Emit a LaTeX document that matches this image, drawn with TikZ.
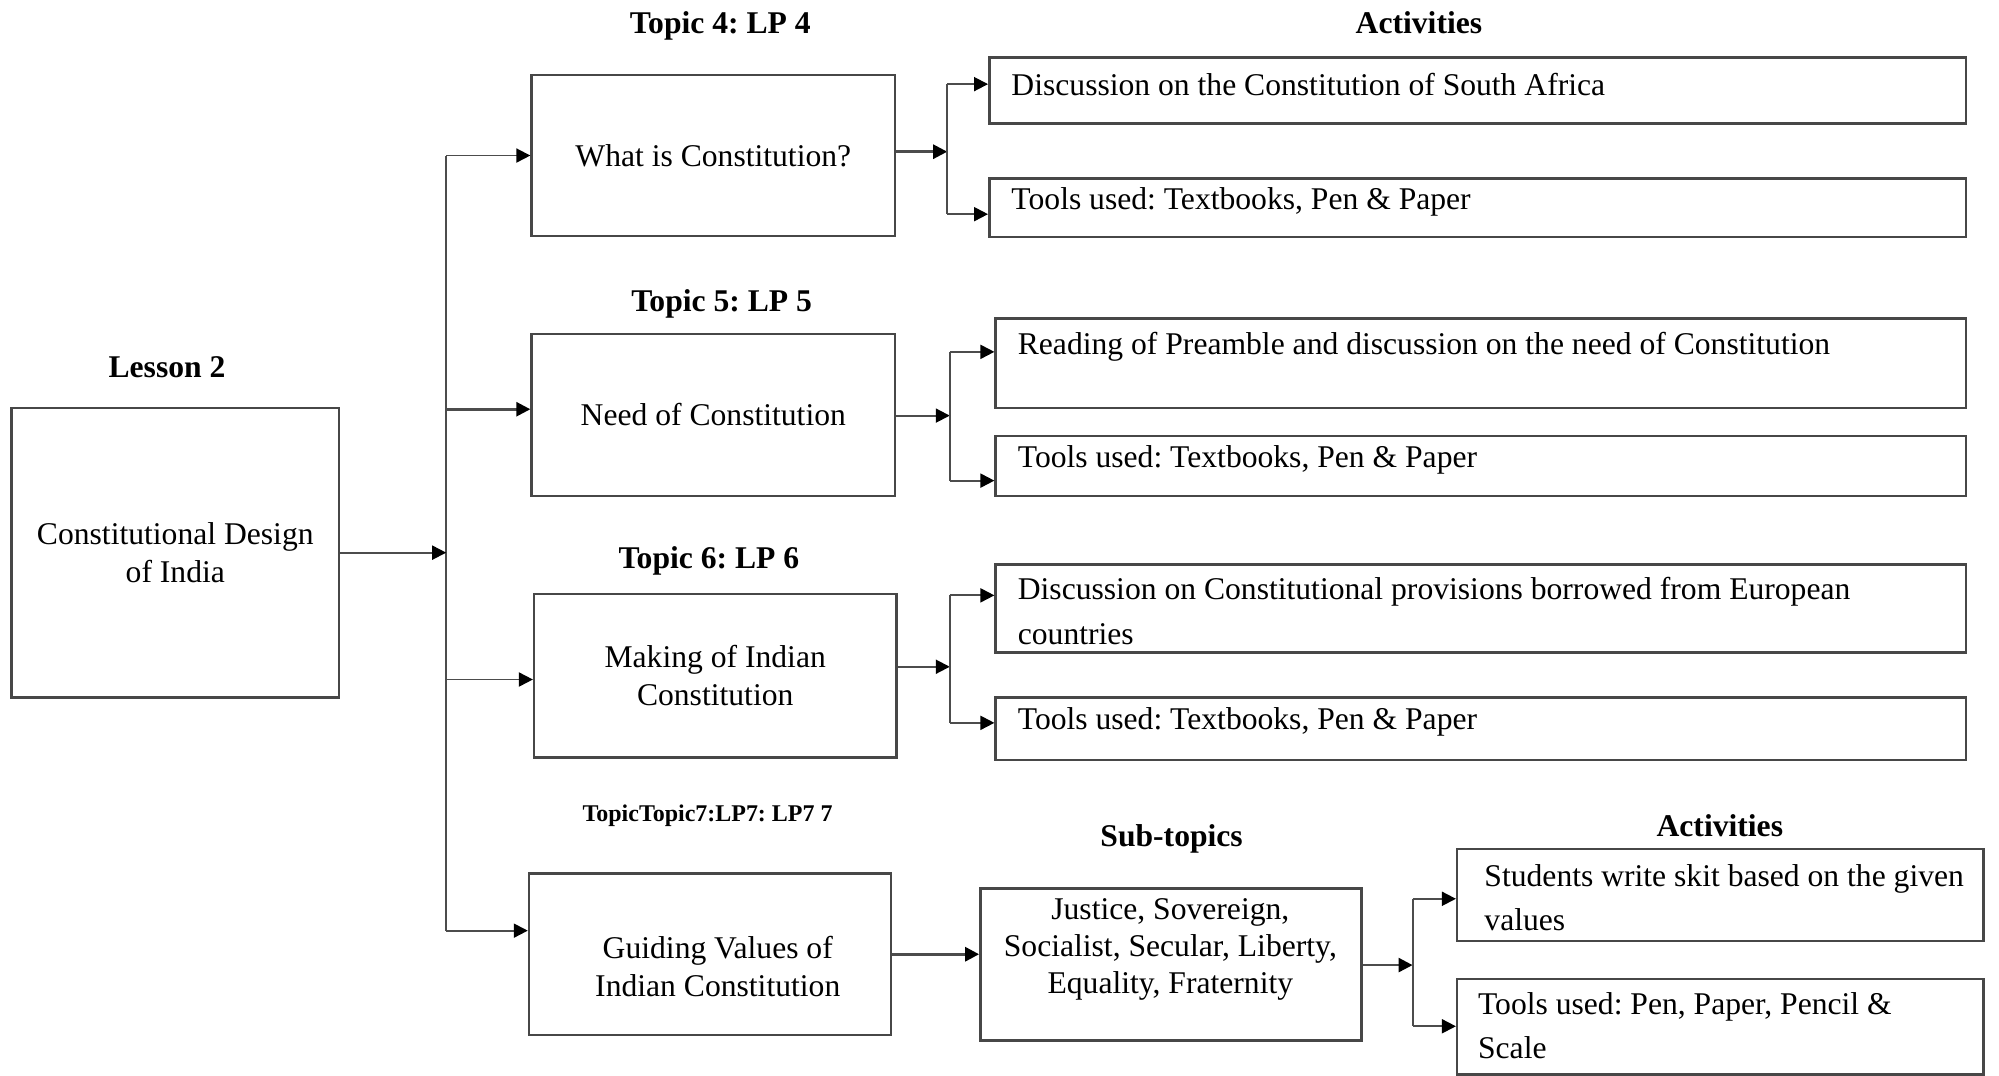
\documentclass[tikz,border=0pt]{standalone}
\usepackage{fontspec}
\setmainfont{Liberation Serif}
\usetikzlibrary{arrows.meta}
\frenchspacing
\newcommand\myBody{\fontsize{12.4}{15}\selectfont}
\newcommand\myAct{\fontsize{12.4}{17.5}\selectfont}
\newcommand\myHead{\fontsize{12.4}{15}\selectfont\bfseries}
\newcommand\mySmall{\fontsize{9.4}{11}\selectfont\bfseries}
\begin{document}
\begin{tikzpicture}[x=0.5pt,y=-0.5pt,
  box/.style={draw=black!72, line width=1pt, inner sep=0pt, align=center, font=\myBody},
  txt/.style={inner sep=0pt, font=\myBody, align=left},
  acttxt/.style={inner sep=0pt, font=\myAct, align=left, anchor=west},
  head/.style={inner sep=0pt, font=\myHead},
  conn/.style={draw=black!70, line width=0.75pt},
  arr/.style={conn, -{Triangle[length=5.5pt,width=5.5pt,color=black]}}]
\useasboundingbox (0,0) rectangle (1568,844);

% headings
\node[head] (h4) at (565,20) {Topic 4: LP 4};
\node[head] (act1) at (1113,18) {Activities};
\node[head] (h5) at (566,238) {Topic 5: LP 5};
\node[head] (les) at (131,288) {Lesson 2};
\node[head] (h6) at (556,440) {Topic 6: LP 6};
\node[head, font=\mySmall] (h7) at (555,640) {TopicTopic7:LP7: LP7 7};
\node[head] (subh) at (919,658) {Sub-topics};
\node[head] (act2) at (1349,648) {Activities};

% main boxes
\node[box, minimum width=128.5pt, minimum height=113.5pt] (lesson) at (137.5,433.5) {Constitutional Design\\of India};
\node[box, minimum width=142.5pt, minimum height=63pt] (w) at (559.5,122) {What is Constitution?};
\node[box, minimum width=142.5pt, minimum height=63.5pt] (n) at (559.5,325.5) {Need of Constitution};
\node[box, minimum width=142pt, minimum height=64pt] (m) at (561,530) {Making of Indian\\Constitution};
\node[box, minimum width=142pt, minimum height=63.5pt] (g) at (557,748.5) {};
\node[txt, align=center] (gt) at (563,758) {Guiding Values of\\Indian Constitution};
\node[box, minimum width=149.5pt, minimum height=59.5pt] (s) at (918.5,756.5) {};
\node[txt, align=center, font=\fontsize{12.4}{14.5}\selectfont] (st) at (918,745) {Justice, Sovereign,\\Socialist, Secular, Liberty,\\Equality, Fraternity};

% activity boxes
\node[box, minimum width=383pt, minimum height=26pt] (a1) at (1159,71) {};
\node[acttxt] (a1t) at (793,66) {Discussion on the Constitution of South Africa};
\node[box, minimum width=383pt, minimum height=23pt] (a2) at (1159,163) {};
\node[acttxt] (a2t) at (793,158) {Tools used: Textbooks, Pen \& Paper};
\node[box, minimum width=380.5pt, minimum height=35pt] (a3) at (1161.5,285) {};
\node[acttxt] (a3t) at (798,272) {Reading of Preamble and discussion on the need of Constitution};
\node[box, minimum width=380.5pt, minimum height=23.5pt] (a4) at (1161.5,365.5) {};
\node[acttxt] (a4t) at (798,361) {Tools used: Textbooks, Pen \& Paper};
\node[box, minimum width=380.5pt, minimum height=34.5pt] (a5) at (1161.5,477.5) {};
\node[acttxt] (a5t) at (798,479.5) {Discussion on Constitutional provisions borrowed from European\\countries};
\node[box, minimum width=380.5pt, minimum height=24.5pt] (a6) at (1161.5,571.5) {};
\node[acttxt] (a6t) at (798,566) {Tools used: Textbooks, Pen \& Paper};
\node[box, minimum width=206.5pt, minimum height=36pt] (b1) at (1349.5,702) {};
\node[acttxt] (b1t) at (1164,704) {Students write skit based on the given\\values};
\node[box, minimum width=206.5pt, minimum height=37.5pt] (b2) at (1349.5,805.5) {};
\node[acttxt] (b2t) at (1159,804.5) {Tools used: Pen, Paper, Pencil \&\\Scale};

% trunk
\coordinate (t1) at (350,122);
\coordinate (t2) at (350,321);
\coordinate (t3) at (350,533);
\coordinate (t4) at (350,730);
\draw[conn] (t1) -- (t4);
\draw[arr] (lesson.east) -- (lesson.east -| t1);
\draw[arr] (t1) -- (t1 -| w.west);
\draw[arr, line width=1pt] (t2) -- (t2 -| n.west);
\draw[arr] (t3) -- (t3 -| m.west);
\draw[arr] (t4) -- (t4 -| g.west);

% group 1
\coordinate (j1) at (743,119);
\coordinate (u1) at (743,66);
\coordinate (l1) at (743,168);
\draw[arr, line width=1pt] (w.east |- j1) -- (j1);
\draw[conn] (u1) -- (l1);
\draw[arr] (u1) -- (u1 -| a1.west);
\draw[arr] (l1) -- (l1 -| a2.west);

% group 2
\coordinate (j2) at (745,326);
\coordinate (u2) at (745,276);
\coordinate (l2) at (745,377);
\draw[arr] (n.east |- j2) -- (j2);
\draw[conn] (u2) -- (l2);
\draw[arr] (u2) -- (u2 -| a3.west);
\draw[arr] (l2) -- (l2 -| a4.west);

% group 3
\coordinate (j3) at (745,523);
\coordinate (u3) at (745,467);
\coordinate (l3) at (745,567);
\draw[arr] (m.east |- j3) -- (j3);
\draw[conn] (u3) -- (l3);
\draw[arr] (u3) -- (u3 -| a5.west);
\draw[arr] (l3) -- (l3 -| a6.west);

% sub-topics
\draw[arr, line width=1.2pt] (g.east) -- (g.east -| s.west);
\coordinate (j4) at (1108,757);
\coordinate (u4) at (1108,705);
\coordinate (l4) at (1108,805);
\draw[arr, line width=1pt] (s.east |- j4) -- (j4);
\draw[conn] (u4) -- (l4);
\draw[arr] (u4) -- (u4 -| b1.west);
\draw[arr] (l4) -- (l4 -| b2.west);
\end{tikzpicture}
\end{document}
